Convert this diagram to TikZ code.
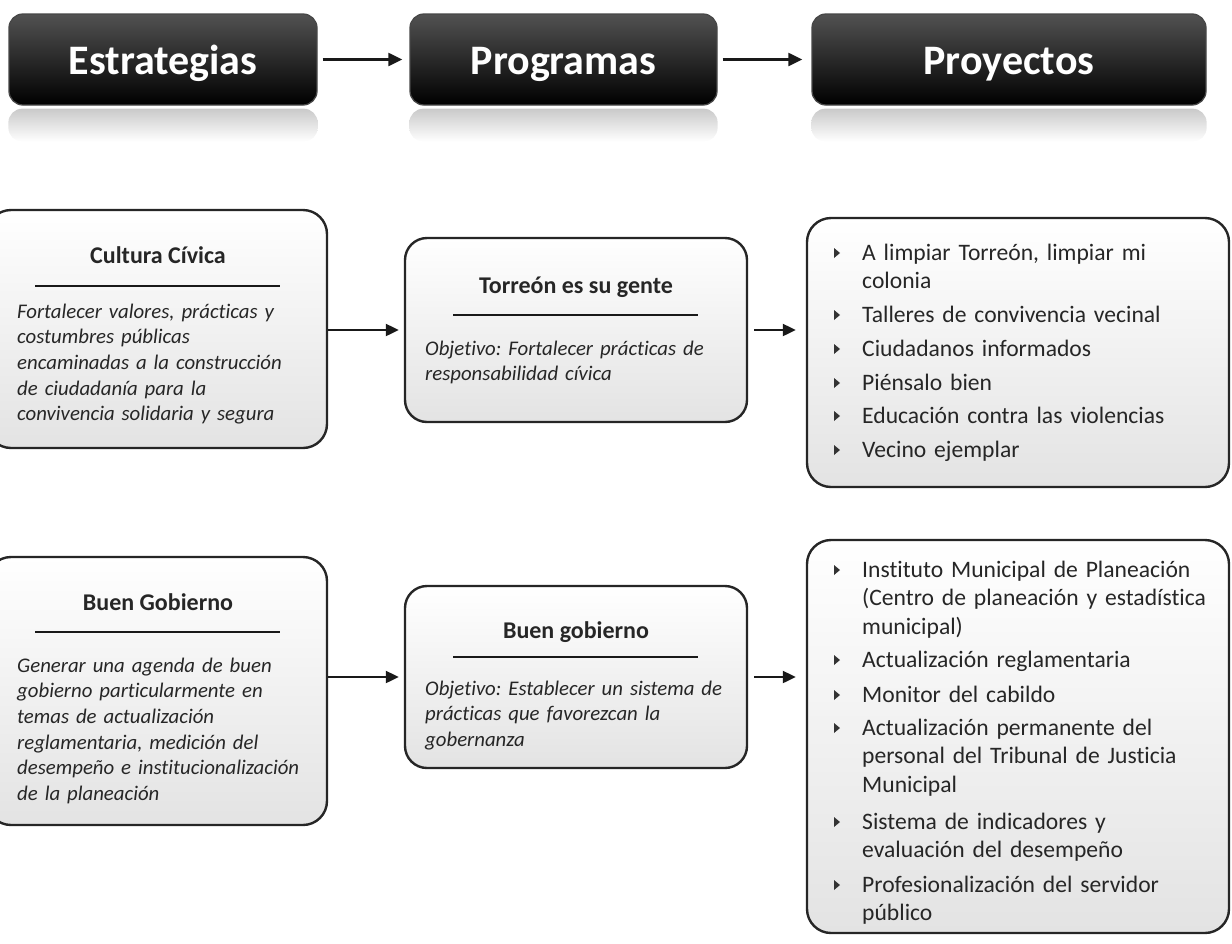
\documentclass[tikz,border=0pt]{standalone}
\usepackage{fontspec}
\setmainfont{Carlito}[Ligatures=CommonOff]
\usetikzlibrary{arrows.meta,calc}
\frenchspacing
\begin{document}
\begin{tikzpicture}[x=1pt,y=-1pt,
  hdrbox/.style={rectangle, rounded corners=14pt, draw=black!72, line width=1.3pt,
    top color=black!68, bottom color=black, inner sep=0pt, minimum height=91pt},
  hdrtext/.style={font=\fontsize{42}{48}\selectfont\bfseries, text=white, inner sep=0pt},
  cbox/.style={rectangle, rounded corners=24pt, draw=black!85, line width=2.4pt,
    top color=white, bottom color=black!11, inner sep=0pt},
  ttl/.style={font=\fontsize{24}{28}\selectfont\bfseries, text=black!85, inner sep=0pt},
  itx/.style={font=\fontsize{20.8}{25.7}\selectfont\itshape, text=black!85, inner sep=0pt,
    align=left, text width=310pt},
  itm/.style={font=\fontsize{23.6}{28.5}\selectfont, text=black!85, inner sep=0pt,
    align=left, text width=360pt},
  rule/.style={draw=black!90, line width=2pt},
  conn/.style={draw=black!90, line width=2.2pt, -{Triangle[length=13pt,width=12pt]}},
  refl/.style={top color=black!21, bottom color=white, rounded corners=14pt}
]
\useasboundingbox (0,0) rectangle (1232,943);
\newcommand\bulmark[1]{\fill[black!80] ($(#1.base west)+(-28,-12)$) -- ++(6,5) -- ++(-6,5) -- cycle;}

% ---------- header ----------
\node[hdrbox, minimum width=308pt] (h1) at (163,59.5) {};
\node[hdrbox, minimum width=307pt] (h2) at (563.5,59.5) {};
\node[hdrbox, minimum width=394pt] (h3) at (1009,59.5) {};
\foreach \h in {h1,h2,h3}{
  \shade[refl] ($(\h.south west)+(0,3)$) rectangle ($(\h.south east)+(0,36)$);
}
\node[hdrtext, anchor=base] (h1t) at (163,74) {Estrategias};
\node[hdrtext, anchor=base] (h2t) at (563.5,74) {Programas};
\node[hdrtext, anchor=base] (h3t) at (1009,74) {Proyectos};
\draw[conn, shorten <=5pt, shorten >=7pt, -{Triangle[length=14pt,width=13pt]}] (h1) -- (h2);
\draw[conn, shorten <=5pt, shorten >=9pt, -{Triangle[length=14pt,width=13pt]}] (h2) -- (h3);

% ---------- row 1 ----------
\node[cbox, minimum width=340pt, minimum height=238pt] (cult) at (157,329) {};
\node[cbox, rounded corners=22pt, minimum width=342pt, minimum height=184pt] (torr) at (576,330) {};
\node[cbox, minimum width=422pt, minimum height=269pt] (proj1) at (1018,352.5) {};

\node[ttl, anchor=base] (cultt) at (158,263) {Cultura Cívica};
\draw[rule] (35,286) -- (280,286);
\node[itx, anchor=base west] (cultx) at (17,318) {Fortalecer valores, prácticas y\\costumbres públicas\\encaminadas a la construcción\\de ciudadanía para la\\convivencia solidaria y segura};

\node[ttl, anchor=base] (torrt) at (576,293) {Torreón es su gente};
\draw[rule] (453,315) -- (698,315);
\node[itx, anchor=base west] (torrx) at (425,355) {Objetivo: Fortalecer prácticas de\\responsabilidad cívica};

\node[itm, anchor=base west] (p1a) at (862,260) {A limpiar Torreón, limpiar mi\\colonia};
\node[itm, anchor=base west] (p1b) at (862,322) {Talleres de convivencia vecinal};
\node[itm, anchor=base west] (p1c) at (862,356) {Ciudadanos informados};
\node[itm, anchor=base west] (p1d) at (862,390) {Piénsalo bien};
\node[itm, anchor=base west] (p1e) at (862,423) {Educación contra las violencias};
\node[itm, anchor=base west] (p1f) at (862,457) {Vecino ejemplar};
\foreach \n in {p1a,p1b,p1c,p1d,p1e,p1f}{\bulmark{\n}}

\draw[conn, shorten >=5pt] (cult.east |- torr.west) -- (torr.west);
\draw[conn, shorten <=6pt, shorten >=10pt] (torr.east) -- (torr.east -| proj1.west);

% ---------- row 2 ----------
\node[cbox, minimum width=340pt, minimum height=268pt] (bg) at (157,691) {};
\node[cbox, rounded corners=22pt, minimum width=342pt, minimum height=182pt] (bgp) at (576,677) {};
\node[cbox, minimum width=422pt, minimum height=393pt] (proj2) at (1018,736.5) {};

\node[ttl, anchor=base] (bgt) at (158,610) {Buen Gobierno};
\draw[rule] (35,632) -- (280,632);
\node[itx, anchor=base west] (bgx) at (17,672) {Generar una agenda de buen\\gobierno particularmente en\\temas de actualización\\reglamentaria, medición del\\desempeño e institucionalización\\de la planeación};

\node[ttl, anchor=base] (bgpt) at (576,638) {Buen gobierno};
\draw[rule] (453,657) -- (698,657);
\node[itx, anchor=base west] (bgpx) at (425,695) {Objetivo: Establecer un sistema de\\prácticas que favorezcan la\\gobernanza};

\node[itm, anchor=base west] (p2a) at (862,577) {Instituto Municipal de Planeación\\(Centro de planeación y estadística\\municipal)};
\node[itm, anchor=base west] (p2b) at (862,667) {Actualización reglamentaria};
\node[itm, anchor=base west] (p2c) at (862,702) {Monitor del cabildo};
\node[itm, anchor=base west] (p2d) at (862,735) {Actualización permanente del\\personal del Tribunal de Justicia\\Municipal};
\node[itm, anchor=base west] (p2e) at (862,829) {Sistema de indicadores y\\evaluación del desempeño};
\node[itm, anchor=base west] (p2f) at (862,892) {Profesionalización del servidor\\público};
\foreach \n in {p2a,p2b,p2c,p2d,p2e,p2f}{\bulmark{\n}}

\draw[conn, shorten >=5pt] (bg.east |- bgp.west) -- (bgp.west);
\draw[conn, shorten <=6pt, shorten >=10pt] (bgp.east) -- (bgp.east -| proj2.west);
\end{tikzpicture}
\end{document}
